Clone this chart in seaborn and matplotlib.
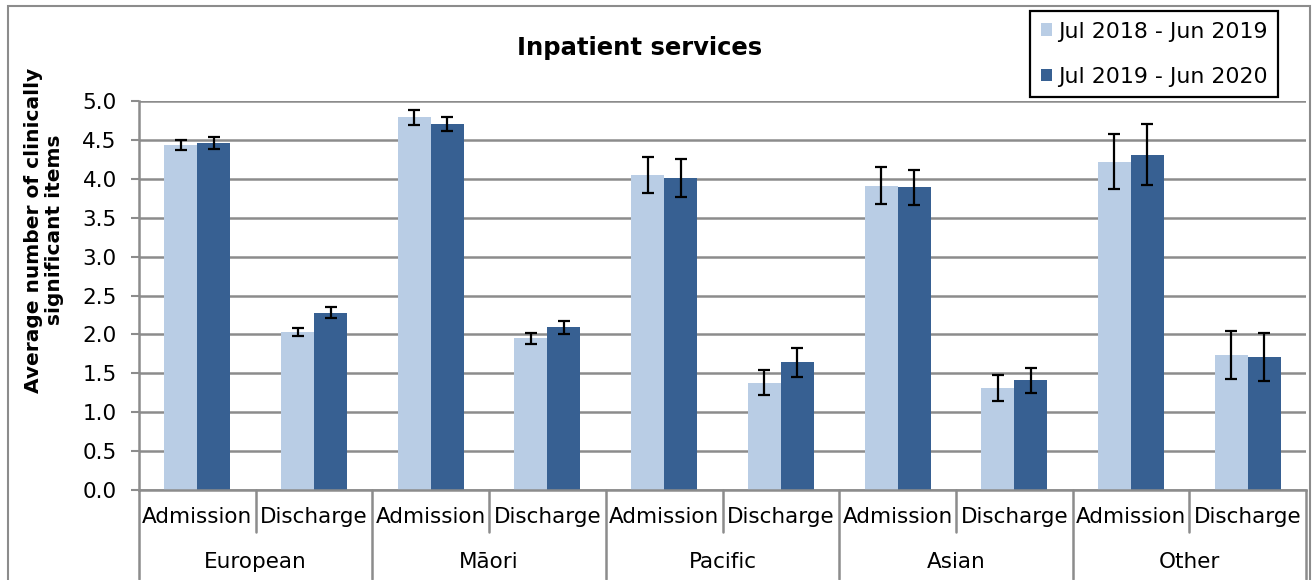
import matplotlib
matplotlib.use("Agg")
import matplotlib.pyplot as plt
from matplotlib.patches import Rectangle
import numpy as np
import pandas as pd
import seaborn as sns

# data
groups = ["European", "Māori", "Pacific", "Asian", "Other"]
stages = ["Admission", "Discharge"]
periods = ["Jul 2018 - Jun 2019", "Jul 2019 - Jun 2020"]
mean_1819 = [4.43, 2.03, 4.79, 1.95, 4.05, 1.38, 3.91, 1.31, 4.22, 1.74]
mean_1920 = [4.46, 2.28, 4.70, 2.09, 4.01, 1.64, 3.89, 1.41, 4.31, 1.71]
err_1819 = [0.065, 0.055, 0.095, 0.07, 0.23, 0.16, 0.24, 0.165, 0.355, 0.31]
err_1920 = [0.075, 0.07, 0.09, 0.08, 0.25, 0.19, 0.225, 0.16, 0.39, 0.31]

colors = ["#B9CDE5", "#376092"]
grid_col = "#8C8C8C"

keys = [f"{g} {s}" for g in groups for s in stages]
df = pd.DataFrame({
    "key": keys * 2,
    "period": [periods[0]] * 10 + [periods[1]] * 10,
    "value": mean_1819 + mean_1920,
})
errs = [err_1819, err_1920]

sns.set_style("white")
plt.rcParams["font.family"] = ["DejaVu Sans"]
plt.rcParams["text.color"] = "black"
plt.rcParams["xtick.labelcolor"] = "black"
plt.rcParams["ytick.labelcolor"] = "black"

fig = plt.figure(figsize=(13.13, 5.8), dpi=100)
ax = fig.add_axes([139 / 1313, 1 - 490 / 580, 1167 / 1313, 389 / 580])

sns.barplot(data=df, x="key", y="value", hue="period", order=keys,
            hue_order=periods, palette=colors, width=0.566, errorbar=None,
            saturation=1, linewidth=0, ax=ax)

# error bars on the bar centres seaborn placed
for cont, e in zip(ax.containers, errs):
    xs = [p.get_x() + p.get_width() / 2 for p in cont]
    ys = [p.get_height() for p in cont]
    ax.errorbar(xs, ys, yerr=e, fmt="none", ecolor="black", elinewidth=1.6,
                capsize=4, capthick=1.6, zorder=5)

handles, labels = ax.get_legend_handles_labels()
ax.get_legend().remove()

ax.set_ylim(0, 5)
ax.set_xlim(-0.5, 9.5)
ax.set_yticks(np.arange(0, 5.01, 0.5))
ax.set_yticklabels([f"{v:.1f}" for v in np.arange(0, 5.01, 0.5)])
ax.yaxis.grid(True, color=grid_col, linewidth=1.8)
ax.set_axisbelow(True)
for s in ["top", "right"]:
    ax.spines[s].set_visible(False)
for s in ["left", "bottom"]:
    ax.spines[s].set_color(grid_col)
    ax.spines[s].set_linewidth(1.8)
ax.tick_params(axis="y", length=6, width=1.5, color=grid_col, pad=10,
               labelsize=15.5, left=True)
ax.set_xticks(range(10))
ax.set_xticklabels(stages * 5)
ax.tick_params(axis="x", length=0, pad=12, labelsize=15.5)
ax.set_xlabel("")
ax.set_ylabel("")

# two-level category axis: separators and group names
trans = ax.get_xaxis_transform()
for b in range(11):
    bottom = -0.23 if b % 2 == 0 else -0.108
    ax.plot([b - 0.5, b - 0.5], [0, bottom], transform=trans, color=grid_col,
            linewidth=1.8, clip_on=False)
for i, g in enumerate(groups):
    ax.text(2 * i + 0.5, -0.185, g, transform=trans, ha="center", va="center",
            fontsize=15.5)

fig.text(640 / 1313, 1 - 48 / 580, "Inpatient services", ha="center",
         va="center", fontsize=17.5, fontweight="bold")
fig.text(44 / 1313, 1 - 230 / 580,
         "Average number of clinically\nsignificant items", rotation=90,
         ha="center", va="center", multialignment="center", fontsize=14.5,
         fontweight="bold", linespacing=1.1)

leg = fig.legend(handles, labels, loc="upper left",
                 bbox_to_anchor=(1030 / 1313, 1 - 11 / 580), borderaxespad=0,
                 fontsize=15.8, handlelength=0.5, handleheight=0.5,
                 handletextpad=0.3, labelspacing=1.15, borderpad=0.48,
                 fancybox=False, framealpha=1)
leg.get_frame().set_edgecolor("black")
leg.get_frame().set_linewidth(1.6)

# outer chart frame
fig.patches.append(Rectangle((8 / 1313, -0.02), 1302 / 1313, 1.02 - 6 / 580,
                             transform=fig.transFigure, fill=False,
                             edgecolor=grid_col, linewidth=1.5))

fig.savefig("out.png", dpi=100)
